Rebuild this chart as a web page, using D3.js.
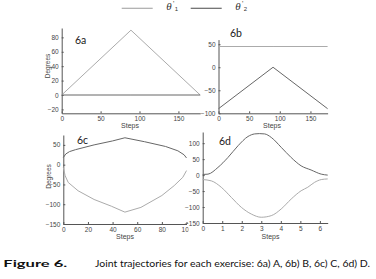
<!DOCTYPE html>
<html>
<head>
<meta charset="utf-8">
<script src="https://cdn.jsdelivr.net/npm/d3@7"></script>
<style>
  body { margin: 0; background: #fff; }
  svg { display: block; }
</style>
</head>
<body>
<div id="chart"></div>
<script>
// ---- data ----
var seriesNames = ["θ'1", "θ'2"];

// 6a
var stepsA = [0, 89, 178];
var thetaA1 = [0, 90, 0];
var thetaA2 = [0, 0, 0];
var ticksAx = [0, 50, 100, 150];
var ticksAy = [-20, 0, 20, 40, 60, 80];

// 6b
var stepsB = [0, 89, 178];
var thetaB1 = [45, 45, 45];
var thetaB2 = [-90, 0, -90];
var ticksBx = [0, 50, 100, 150];
var ticksBy = [-100, -50, 0, 50];

// 6c
var stepsC1 = [0, 1.5, 4, 12, 25, 39, 50, 63, 80, 90, 97, 100];
var thetaC1 = [-7, -28, -45, -66, -88, -105, -120, -108, -78, -53, -32, -15];
var stepsC2 = [0, 2, 5, 10, 25, 40, 50, 66, 83, 93, 98, 100];
var thetaC2 = [18, 27, 33, 38, 50, 60, 68, 58, 46, 35, 25, 17];
var ticksCx = [0, 20, 40, 60, 80, 100];
var ticksCy = [-150, -100, -50, 0, 50];

// 6d
var stepsD1 = [0, 0.44, 0.95, 1.47, 1.98, 2.49, 3.0, 3.51, 4.02, 4.53, 5.04, 5.38, 5.72, 6.07, 6.4];
var thetaD1 = [-14, -18, -38, -70, -101, -122, -132, -127, -106, -75, -49, -38, -23, -14, -12];
var stepsD2 = [0, 0.27, 0.78, 1.29, 1.81, 2.32, 2.66, 2.9, 3.17, 3.51, 4.02, 4.53, 5.04, 5.55, 6.07, 6.4];
var thetaD2 = [2, 3, 24, 55, 92, 121, 129, 130, 129, 118, 87, 55, 29, 16, 3, 0];
var ticksDx = [0, 1, 2, 3, 4, 5, 6];
var ticksDy = [-150, -100, -50, 0, 50, 100];

var panelLabels = ["6a", "6b", "6c", "6d"];
var captionBold = "Figure 6.";
var captionText = "Joint trajectories for each exercise: 6a) A, 6b) B, 6c) C, 6d) D.";

var colors = ["#ababab", "#676767"];

var width = 376, height = 279;

var svg = d3.select("#chart").append("svg")
    .attr("width", width)
    .attr("height", height);

var defs = svg.append("defs");

// Panels: pixel box + domains
var panels = [
    { label: panelLabels[0], xr: [61.7, 200.2], yr: [113.3, 28], xd: [0, 178], yd: [-25.4, 93],
      xt: ticksAx, yt: ticksAy, ylabel: true, labelPos: [75, 44], stepsPos: [130, 128],
      series: [[stepsA, thetaA1, 0], [stepsA, thetaA2, 1]], curve: d3.curveLinear },
    { label: panelLabels[1], xr: [218.5, 327.6], yr: [113.3, 39.6], xd: [0, 178], yd: [-100, 60],
      xt: ticksBx, yt: ticksBy, ylabel: false, labelPos: [230, 36.5], stepsPos: [272, 128],
      series: [[stepsB, thetaB1, 0], [stepsB, thetaB2, 1]], curve: d3.curveLinear },
    { label: panelLabels[2], xr: [63.3, 186.5], yr: [224, 135], xd: [0, 100], yd: [-150, 75],
      xt: ticksCx, yt: ticksCy, ylabel: true, labelPos: [77, 143.5], stepsPos: [125, 239],
      series: [[stepsC1, thetaC1, 0], [stepsC2, thetaC2, 1]], curve: d3.curveLinear, clipRight: 188.5 },
    { label: panelLabels[3], xr: [202.7, 327.7], yr: [223, 132], xd: [0, 6.4], yd: [-150, 135],
      xt: ticksDx, yt: ticksDy, ylabel: false, labelPos: [219, 144.5], stepsPos: [270.5, 239],
      series: [[stepsD1, thetaD1, 0], [stepsD2, thetaD2, 1]], curve: d3.curveMonotoneX }
];

var fmt = d3.format("~g");

panels.forEach(function(p, i) {
    var g = svg.append("g");
    if (p.clipRight) {
        defs.append("clipPath").attr("id", "clip" + i)
            .append("rect").attr("x", 0).attr("y", 0).attr("width", p.clipRight).attr("height", height);
        g.attr("clip-path", "url(#clip" + i + ")");
    }

    var x = d3.scaleLinear().domain(p.xd).range(p.xr);
    var y = d3.scaleLinear().domain(p.yd).range(p.yr);

    var xAxis = d3.axisBottom(x).tickValues(p.xt).tickFormat(fmt)
        .tickSizeInner(-2).tickSizeOuter(0).tickPadding(3);
    var yAxis = d3.axisLeft(y).tickValues(p.yt).tickFormat(fmt)
        .tickSizeInner(-2).tickSizeOuter(0).tickPadding(3);

    var gx = g.append("g").attr("transform", "translate(0," + p.yr[0] + ")").call(xAxis);
    var gy = g.append("g").attr("transform", "translate(" + p.xr[0] + ",0)").call(yAxis);

    [gx, gy].forEach(function(a) {
        a.select(".domain").attr("stroke", "#555").attr("stroke-width", 1);
        a.selectAll(".tick line").attr("stroke", "#555");
        a.selectAll(".tick text")
            .attr("fill", "#444")
            .style("font-family", "'Liberation Sans', Arial, sans-serif")
            .style("font-size", "6.5px");
    });

    p.series.forEach(function(s) {
        var pts = d3.zip(s[0], s[1]);
        g.append("path")
            .datum(pts)
            .attr("fill", "none")
            .attr("stroke", colors[s[2]])
            .attr("stroke-width", 1)
            .attr("d", d3.line().x(function(d) { return x(d[0]); }).y(function(d) { return y(d[1]); }).curve(p.curve));
    });

    g.append("text")
        .attr("x", p.labelPos[0]).attr("y", p.labelPos[1])
        .attr("fill", "#222")
        .style("font-family", "Lato, sans-serif")
        .style("font-size", "10.5px")
        .text(p.label);

    g.append("text")
        .attr("x", p.stepsPos[0]).attr("y", p.stepsPos[1])
        .attr("text-anchor", "middle")
        .attr("fill", "#444")
        .style("font-family", "'Liberation Sans', Arial, sans-serif")
        .style("font-size", "7px")
        .text("Steps");

    if (p.ylabel) {
        var cy = (i === 0) ? 66 : 176.5;
        var cx = (i === 0) ? 49.5 : 51;
        g.append("text")
            .attr("transform", "translate(" + cx + "," + cy + ") rotate(-90)")
            .attr("text-anchor", "middle")
            .attr("fill", "#444")
            .style("font-family", "'Liberation Sans', Arial, sans-serif")
            .style("font-size", "6.5px")
            .text("Degrees");
    }
});

// Legend
var legendX = [121.7, 190.7];
var legend = svg.append("g");
seriesNames.forEach(function(name, i) {
    var lx = legendX[i];
    legend.append("line")
        .attr("x1", lx).attr("x2", lx + 31)
        .attr("y1", 8.3).attr("y2", 8.3)
        .attr("stroke", colors[i]).attr("stroke-width", 1.2);
    var tx = lx + 44.5;
    legend.append("text")
        .attr("x", tx).attr("y", 9.6)
        .attr("fill", "#333")
        .style("font-family", "'Liberation Serif', serif")
        .style("font-style", "italic")
        .style("font-size", "11px")
        .text(name.charAt(0));
    legend.append("text")
        .attr("x", tx + 6.8).attr("y", 6)
        .attr("fill", "#333")
        .style("font-family", "'Liberation Sans', sans-serif")
        .style("font-size", "7px")
        .text(name.charAt(1));
    legend.append("text")
        .attr("x", tx + 8.5).attr("y", 10.5)
        .attr("fill", "#333")
        .style("font-family", "'Liberation Sans', sans-serif")
        .style("font-size", "6px")
        .text(name.charAt(2));
});

// Caption
svg.append("text")
    .attr("x", 3.3).attr("y", 267)
    .attr("fill", "#111")
    .style("font-family", "Lato, sans-serif")
    .style("font-weight", "bold")
    .style("font-size", "10px")
    .attr("textLength", 64).attr("lengthAdjust", "spacingAndGlyphs")
    .text(captionBold);

svg.append("text")
    .attr("x", 95).attr("y", 267)
    .attr("fill", "#111")
    .style("font-family", "Lato, sans-serif")
    .style("font-size", "10px")
    .attr("textLength", 275).attr("lengthAdjust", "spacingAndGlyphs")
    .text(captionText);
</script>
</body>
</html>
